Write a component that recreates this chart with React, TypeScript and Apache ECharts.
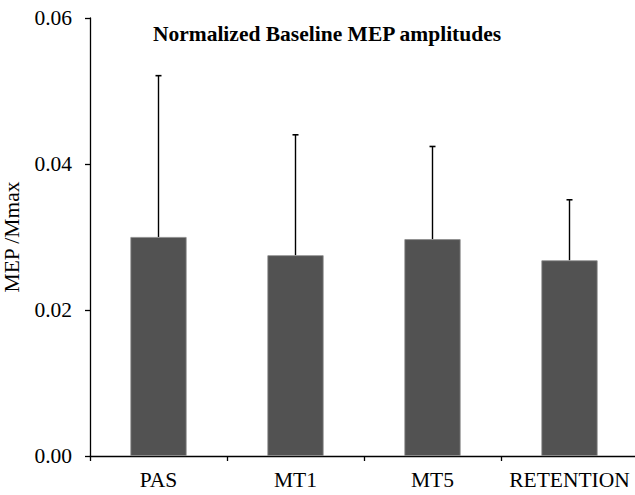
import React, { useEffect, useRef } from "react";
import * as echarts from "echarts";

const categories = ["PAS", "MT1", "MT5", "RETENTION"];
const means = [0.03, 0.0275, 0.0297, 0.0268];
const errorTops = [0.0521, 0.044, 0.0424, 0.0351];
const yTicks = [0, 0.02, 0.04, 0.06];

const FONT = "'Liberation Serif', 'Times New Roman', serif";

export default function App() {
  const ref = useRef<HTMLDivElement>(null);
  useEffect(() => {
    if (!ref.current) return;
    document.body.style.margin = "0";
    const chart = echarts.init(ref.current, undefined, { renderer: "svg" });
    const errData = categories.map((_, i) => [i, means[i], errorTops[i]]);
    chart.setOption({
      animation: false,
      title: {
        text: "Normalized Baseline MEP amplitudes",
        left: 322,
        top: 18,
        textAlign: "center",
        textStyle: { fontFamily: FONT, fontSize: 21.5, fontWeight: "bold", color: "#000" },
      },
      grid: { left: 90, right: -3, top: 18, bottom: 39, containLabel: false, outerBoundsMode: "none" },
      xAxis: {
        type: "category",
        data: categories,
        axisLine: { lineStyle: { color: "#000", width: 1.3 } },
        axisTick: { show: true, interval: 0, inside: false, length: 5, lineStyle: { color: "#000", width: 1.3 } },
        axisLabel: { color: "#000", fontFamily: FONT, fontSize: 21.5, margin: 13, interval: 0, hideOverlap: false },
      },
      yAxis: {
        type: "value",
        min: 0,
        max: 0.06,
        interval: 0.02,
        name: "MEP /Mmax",
        nameLocation: "middle",
        nameGap: 48,
        nameRotate: 90,
        nameTextStyle: { color: "#000", fontFamily: FONT, fontSize: 21.5 },
        axisLine: { show: true, lineStyle: { color: "#000", width: 1.3 } },
        axisTick: { show: true, inside: false, length: 5, lineStyle: { color: "#000", width: 1.3 } },
        splitLine: { show: false },
        axisLabel: {
          color: "#000",
          fontFamily: FONT,
          fontSize: 21.5,
          margin: 18,
          formatter: (v: number) => (yTicks.includes(v) ? v.toFixed(2) : ""),
        },
      },
      series: [
        {
          type: "bar",
          data: means,
          barWidth: "41%",
          itemStyle: { color: "#525252", borderColor: "#8a8a8a", borderWidth: 0.8 },
          z: 2,
        },
        {
          type: "custom",
          data: errData,
          z: 1,
          renderItem: (params: any, api: any) => {
            const idx = api.value(0);
            const low = api.coord([idx, api.value(1)]);
            const high = api.coord([idx, api.value(2)]);
            const half = 3;
            return {
              type: "group",
              children: [
                {
                  type: "line",
                  shape: { x1: low[0], y1: low[1], x2: high[0], y2: high[1] },
                  style: { stroke: "#000", lineWidth: 1.4 },
                },
                {
                  type: "line",
                  shape: { x1: high[0] - half, y1: high[1], x2: high[0] + half, y2: high[1] },
                  style: { stroke: "#000", lineWidth: 1.6 },
                },
              ],
            };
          },
        },
      ],
    });
    return () => chart.dispose();
  }, []);
  return <div ref={ref} style={{ width: 635, height: 495 }} />;
}
